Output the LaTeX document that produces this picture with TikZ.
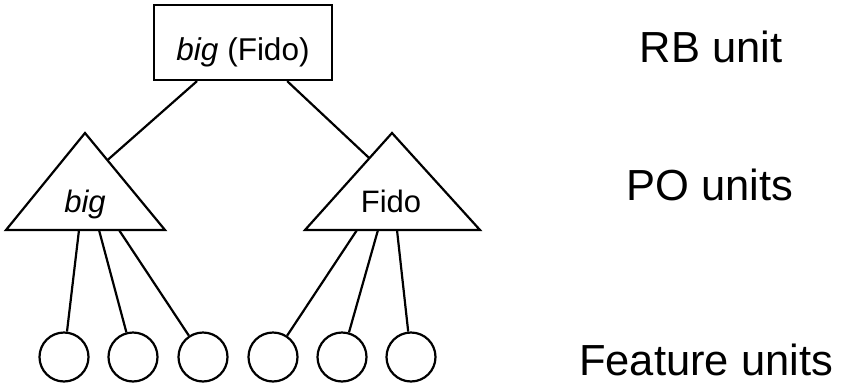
\documentclass[tikz,border=0pt]{standalone}
\usepackage{fontspec}
\setmainfont{Liberation Sans}
\usetikzlibrary{calc}
\begin{document}
\begin{tikzpicture}[x=1pt,y=-1pt,
  wire/.style={line width=2.2pt},
  unitlabel/.style={anchor=base, inner sep=0pt, font=\fontsize{43.5}{50}\selectfont},
  potext/.style={anchor=base, inner sep=0pt, font=\fontsize{31}{36}\selectfont},
  feature/.style={circle, draw, line width=2.2pt, minimum size=49pt, inner sep=0pt},
  rbbox/.style={draw, line width=2.2pt, minimum width=178pt, minimum height=75pt,
    inner sep=0pt, text height=35pt, text depth=0pt, anchor=base,
    font=\fontsize{31.5}{36}\selectfont},
  potri/.style={line width=2.2pt, line join=miter}]
\useasboundingbox (0,0) rectangle (843,383);

% RB unit
\node[rbbox] (rb) at (243,60) {\textit{big} (Fido)};

% PO units (triangles)
\coordinate (La) at (85,133);
\coordinate (Ll) at (6,230);
\coordinate (Lr) at (165,230);
\coordinate (Ra) at (392,133);
\coordinate (Rl) at (305,230);
\coordinate (Rr) at (480,230);
\draw[potri] (La) -- (Lr) -- (Ll) -- cycle;
\draw[potri] (Ra) -- (Rr) -- (Rl) -- cycle;
\node[potext] (lpo) at (85,212) {\textit{big}};
\node[potext] (rpo) at (391,212) {Fido};

% feature units
\foreach \i/\x in {1/64,2/133,3/203,4/273,5/342,6/411}
  \node[feature] (f\i) at (\x,357) {};

% RB to PO connections
\coordinate (rbl) at ($(rb.south west)!0.245!(rb.south east)$);
\coordinate (rbr) at ($(rb.south west)!0.745!(rb.south east)$);
\coordinate (lin) at ($(La)!0.28!(Lr)$);
\coordinate (rin) at ($(Ra)!0.26!(Rl)$);
\draw[wire] (rbl) -- (lin);
\draw[wire] (rbr) -- (rin);

% PO to feature connections
\foreach \i/\x in {1/79,2/99,3/119,4/357,5/378,6/397}
  \coordinate (b\i) at (\x,230);
\foreach \i in {1,...,6}
  \draw[wire] (b\i) -- (f\i);

% layer labels
\node[unitlabel] (lrb) at (711,62) {RB unit};
\node[unitlabel] (lpo2) at (710,200) {PO units};
\node[unitlabel] (lfe) at (706,375) {Feature units};
\end{tikzpicture}
\end{document}
